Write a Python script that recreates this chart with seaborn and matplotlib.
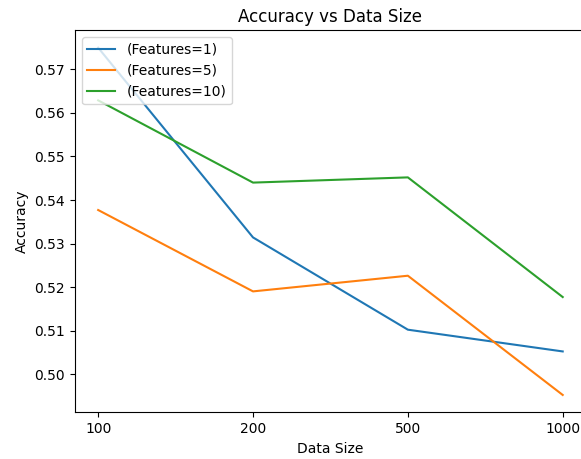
import matplotlib
matplotlib.use("Agg")
import matplotlib.pyplot as plt
import seaborn as sns
import pandas as pd

data_sizes = ["100", "200", "500", "1000"]
acc_f1 = [0.5750, 0.5314, 0.5102, 0.5052]
acc_f5 = [0.5377, 0.5190, 0.5226, 0.4952]
acc_f10 = [0.5629, 0.5440, 0.5452, 0.5177]
labels = ["(Features=1)", "(Features=5)", "(Features=10)"]

rows = []
for lab, vals in zip(labels, [acc_f1, acc_f5, acc_f10]):
    for ds, v in zip(data_sizes, vals):
        rows.append({"Data Size": ds, "Accuracy": v, "series": lab})
df = pd.DataFrame(rows)

plt.rcParams['font.family'] = ['DejaVu Sans']
fig = plt.figure(figsize=(5.81, 4.59), dpi=100)
ax = fig.add_axes([0.129, 0.1017, 0.8795, 0.8322])
palette = ["#1f77b4", "#ff7f0e", "#2ca02c"]
sns.lineplot(data=df, x="Data Size", y="Accuracy", hue="series", palette=palette,
             sort=False, ax=ax, linewidth=1.5)
ax.margins(x=0.05, y=0.05)
ax.autoscale_view()
ax.legend(loc="upper left")
ax.set_title("Accuracy vs Data Size", fontsize=12)
ax.set_xlabel("Data Size")
ax.set_ylabel("Accuracy")
fig.savefig("out.png", dpi=100)
